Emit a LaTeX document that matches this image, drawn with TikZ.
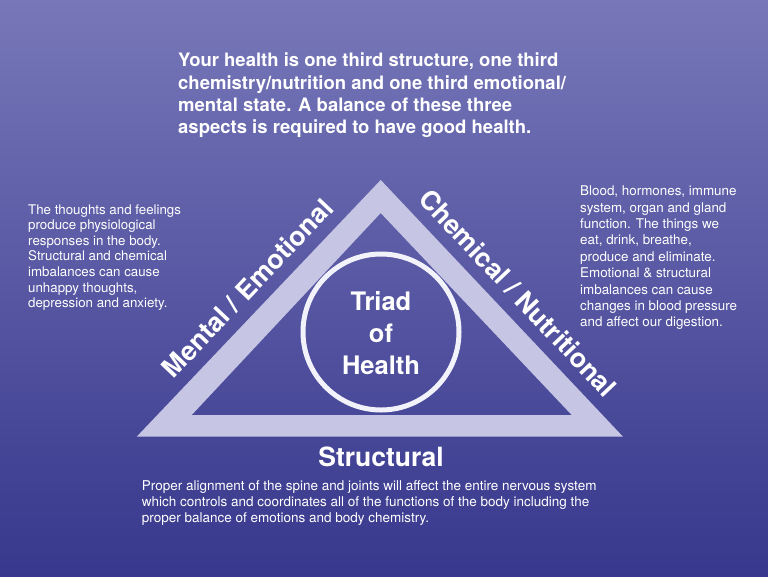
\documentclass[tikz,border=0pt]{standalone}
\usepackage{fontspec}
\setmainfont{TeX Gyre Heros}
\definecolor{fondoA}{HTML}{7777B9}
\definecolor{fondoB}{HTML}{37378D}
\definecolor{banda}{HTML}{C6C5E3}
\definecolor{aro}{HTML}{F2F2FA}
\tikzset{
  lado/.style={text=white,font=\bfseries\fontsize{26.5}{30}\selectfont,inner sep=0pt},
  parrafo/.style={text=white,align=left,inner sep=0pt,anchor=base west},
}

\begin{document}
\begin{tikzpicture}[x=1pt,y=-1pt]
  \shade[top color=fondoA,bottom color=fondoB] (0,0) rectangle (768,576);
  \useasboundingbox (0,0) rectangle (768,576);
  % triangle
  \coordinate (cima) at (380.7,180);
  \coordinate (izq) at (136.7,436.7);
  \coordinate (der) at (623,436.7);
  \coordinate (cimaIn) at (380.7,213);
  \coordinate (izqIn) at (191.7,415);
  \coordinate (derIn) at (571.7,415);
  \fill[banda,even odd rule] (izq) -- (cima) -- (der) -- cycle
    (izqIn) -- (cimaIn) -- (derIn) -- cycle;
  \path (izq) -- node[sloped,above=12pt,pos=0.52,lado] (mental) {Mental / Emotional} (cima);
  \path (cima) -- node[sloped,above=12pt,pos=0.5,lado] (quimico) {Chemical / Nutritional} (der);
  % center
  \node[circle,draw=aro,line width=5pt,minimum size=156pt,inner sep=0pt] (aro) at (381,332) {};
  \node[text=white,align=center,font=\bfseries\fontsize{25.5}{32}\selectfont,inner sep=0pt,anchor=base] (triada) at (381,374) {Triad\\of\\Health};
  % texts (base = last line)
  \node[parrafo,font=\bfseries\fontsize{18.5}{22.3}\selectfont] (titulo) at (178,133.6)
    {Your health is one third structure, one third\\chemistry/nutrition and one third emotional/\\mental state. A balance of these three\\aspects is required to have good health.};
  \node[parrafo,font=\fontsize{13.3}{15.6}\selectfont] (mente) at (28,307.6)
    {The thoughts and feelings\\produce physiological\\responses in the body.\\Structural and chemical\\imbalances can cause\\unhappy thoughts,\\depression and anxiety.};
  \node[parrafo,font=\fontsize{13.4}{16.4}\selectfont] (quimica) at (580,326.9)
    {Blood, hormones, immune\\system, organ and gland\\function. The things we\\eat, drink, breathe,\\produce and eliminate.\\Emotional \& structural\\imbalances can cause\\changes in blood pressure\\and affect our digestion.};
  \node[text=white,font=\bfseries\fontsize{26.5}{30}\selectfont,inner sep=0pt,anchor=base] (estructura) at (381,466) {Structural};
  \node[parrafo,font=\fontsize{13.5}{16}\selectfont] (espina) at (141.7,522.7)
    {Proper alignment of the spine and joints will affect the entire nervous system\\which controls and coordinates all of the functions of the body including the\\proper balance of emotions and body chemistry.};
\end{tikzpicture}
\end{document}
